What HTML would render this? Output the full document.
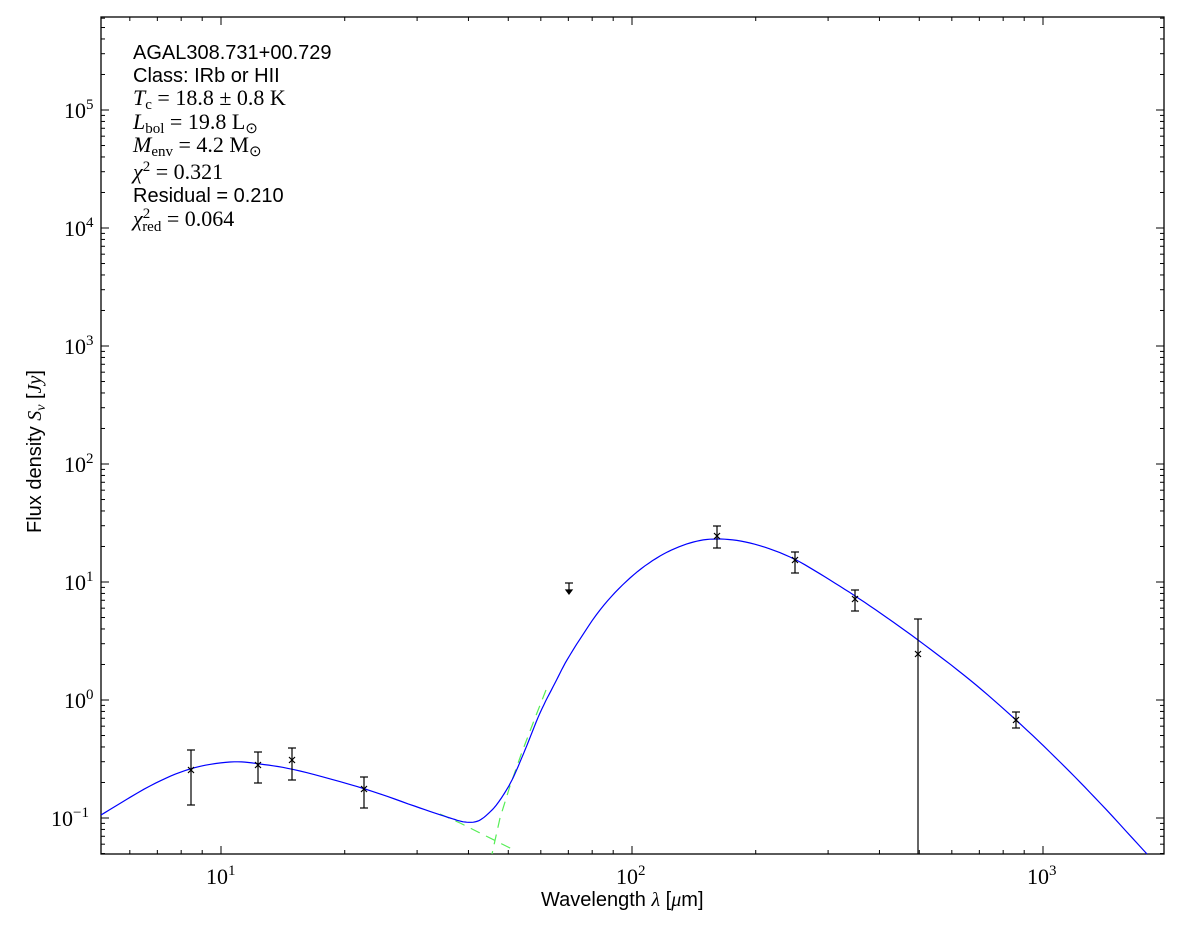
<!DOCTYPE html>
<html><head><meta charset="utf-8"><style>
body{margin:0;background:#fff;width:1200px;height:933px;overflow:hidden}
svg{position:absolute;left:0;top:0}
.t{font-family:"Liberation Sans",sans-serif;font-size:20px}
.m{font-family:"Liberation Serif",serif;font-size:22px}
</style></head><body>
<svg id="s" width="1200" height="933" xmlns="http://www.w3.org/2000/svg">
<rect x="101" y="17" width="1063" height="837" fill="none" stroke="#000" stroke-width="1.3"/>
<g id="ticks" stroke="#000" stroke-width="1"></g>
<polyline id="g1" fill="none" stroke="#55ee55" stroke-width="1.2" stroke-dasharray="10,7" points="440,814 460,823 480,833 500,843 516,851"/>
<polyline id="g2" fill="none" stroke="#55ee55" stroke-width="1.2" stroke-dasharray="10,7" points="546,690 535,718 522,752 510,786 500,818 492,854"/>
<polyline id="blue" fill="none" stroke="#0000ff" stroke-width="1.2"/>
<g id="pts" stroke="#000" stroke-width="1.2" fill="none"></g>
<g class="m" fill="#000">
<text x="206" y="884">10<tspan font-size="15" dy="-9">1</tspan></text>
<text x="616" y="884">10<tspan font-size="15" dy="-9">2</tspan></text>
<text x="1027" y="884">10<tspan font-size="15" dy="-9">3</tspan></text>
<text x="64" y="118">10<tspan font-size="15" dy="-9">5</tspan></text>
<text x="64" y="236">10<tspan font-size="15" dy="-9">4</tspan></text>
<text x="64" y="354">10<tspan font-size="15" dy="-9">3</tspan></text>
<text x="64" y="472">10<tspan font-size="15" dy="-9">2</tspan></text>
<text x="64" y="590">10<tspan font-size="15" dy="-9">1</tspan></text>
<text x="64" y="708">10<tspan font-size="15" dy="-9">0</tspan></text>
<text x="51" y="826">10<tspan font-size="15" dy="-9">−1</tspan></text>
</g>
<text class="t" x="541" y="906">Wavelength <tspan font-family="Liberation Serif" font-style="italic">λ</tspan> [<tspan font-family="Liberation Serif" font-style="italic">μ</tspan>m]</text>
<text class="t" transform="translate(41,533) rotate(-90)">Flux density <tspan font-family="Liberation Serif" font-style="italic">S<tspan font-size="14" dy="4">ν</tspan></tspan><tspan dy="-4"> [</tspan><tspan font-family="Liberation Serif" font-style="italic">Jy</tspan>]</text>
<g fill="#000">
<text class="t" x="133" y="59">AGAL308.731+00.729</text>
<text class="t" x="133" y="82">Class: IRb or HII</text>
<text class="m" x="133" y="105"><tspan font-style="italic">T</tspan><tspan font-size="15" dy="4">c</tspan><tspan dy="-4"> = 18.8 ± 0.8 K</tspan></text>
<text class="m" x="133" y="129"><tspan font-style="italic">L</tspan><tspan font-size="15" dy="4">bol</tspan><tspan dy="-4"> = 19.8 L</tspan><tspan font-size="15" dy="4">⊙</tspan></text>
<text class="m" x="133" y="152"><tspan font-style="italic">M</tspan><tspan font-size="15" dy="4">env</tspan><tspan dy="-4"> = 4.2 M</tspan><tspan font-size="15" dy="4">⊙</tspan></text>
<text class="m" x="133" y="179"><tspan font-style="italic">χ</tspan><tspan font-size="15" dy="-8">2</tspan><tspan dy="8"> = 0.321</tspan></text>
<text class="t" x="133" y="202">Residual = 0.210</text>
<text class="m" x="133" y="226"><tspan font-style="italic">χ</tspan><tspan font-size="15" dy="-8">2</tspan><tspan font-size="15" dx="-8" dy="13">red</tspan><tspan dy="-5"> = 0.064</tspan></text>
</g>
</svg>
<script>
var NS="http://www.w3.org/2000/svg";
function ln(g,x1,y1,x2,y2){var l=document.createElementNS(NS,"line");l.setAttribute("x1",x1);l.setAttribute("y1",y1);l.setAttribute("x2",x2);l.setAttribute("y2",y2);g.appendChild(l);}
var T=document.getElementById("ticks");
var L=101,R=1164,TP=17,B=854;
function X(v){return 221+411*(Math.log10(v)-1);}
function Y(v){return 700-118*Math.log10(v);}
for(var d=0;d<=3;d++)for(var k=1;k<10;k++){var x=X(k*Math.pow(10,d));if(x<L||x>R)continue;var len=k==1?8:4;ln(T,x,B,x,B-len);ln(T,x,TP,x,TP+len);}
for(var d=-2;d<=6;d++)for(var k=1;k<10;k++){var y=Y(k*Math.pow(10,d));if(y<TP||y>B)continue;var len=k==1?8:4;ln(T,L,y,L+len,y);ln(T,R,y,R-len,y);}
var P=[[101,815],[150,786],[190,769],[230,762],[260,764],[300,771],[365,789],[420,808],[450,818],[465,822],[478,821],[490,812],[500,800],[512,780],[525,750],[540,713],[555,683],[570,655],[600,610],[630,578],[660,556],[690,543],[717,539],[750,543],[790,557],[830,580],[870,606],[918,640],[970,680],[1016,720],[1060,762],[1100,803],[1147,854]];
var out=[];for(var i=0;i<P.length-1;i++){var p0=P[Math.max(i-1,0)],p1=P[i],p2=P[i+1],p3=P[Math.min(i+2,P.length-1)];for(var t=0;t<1;t+=0.125){var t2=t*t,t3=t2*t;var f=function(a,b,c,d){return 0.5*(2*b+(-a+c)*t+(2*a-5*b+4*c-d)*t2+(-a+3*b-3*c+d)*t3);};out.push(f(p0[0],p1[0],p2[0],p3[0]).toFixed(1)+","+f(p0[1],p1[1],p2[1],p3[1]).toFixed(1));}}
out.push("1147,854");document.getElementById("blue").setAttribute("points",out.join(" "));
var G=document.getElementById("pts");
var D=[[191,770,750,805],[258,765,752,783],[292,760,748,780],[364,789,777,808],[717,536,526,548],[795,560,552,573],[855,599,590,611],[918,654,619,854],[1016,720,712,728]];
D.forEach(function(d){ln(G,d[0],d[2],d[0],d[3]);ln(G,d[0]-4,d[2],d[0]+4,d[2]);if(d[3]<854)ln(G,d[0]-4,d[3],d[0]+4,d[3]);ln(G,d[0]-3,d[1]-3,d[0]+3,d[1]+3);ln(G,d[0]-3,d[1]+3,d[0]+3,d[1]-3);});
ln(G,569,583,569,592);ln(G,565,583,573,583);
var a=document.createElementNS(NS,"polygon");a.setAttribute("points","566,590 572,590 569,594");a.setAttribute("fill","#000");G.appendChild(a);
</script>
</body></html>
